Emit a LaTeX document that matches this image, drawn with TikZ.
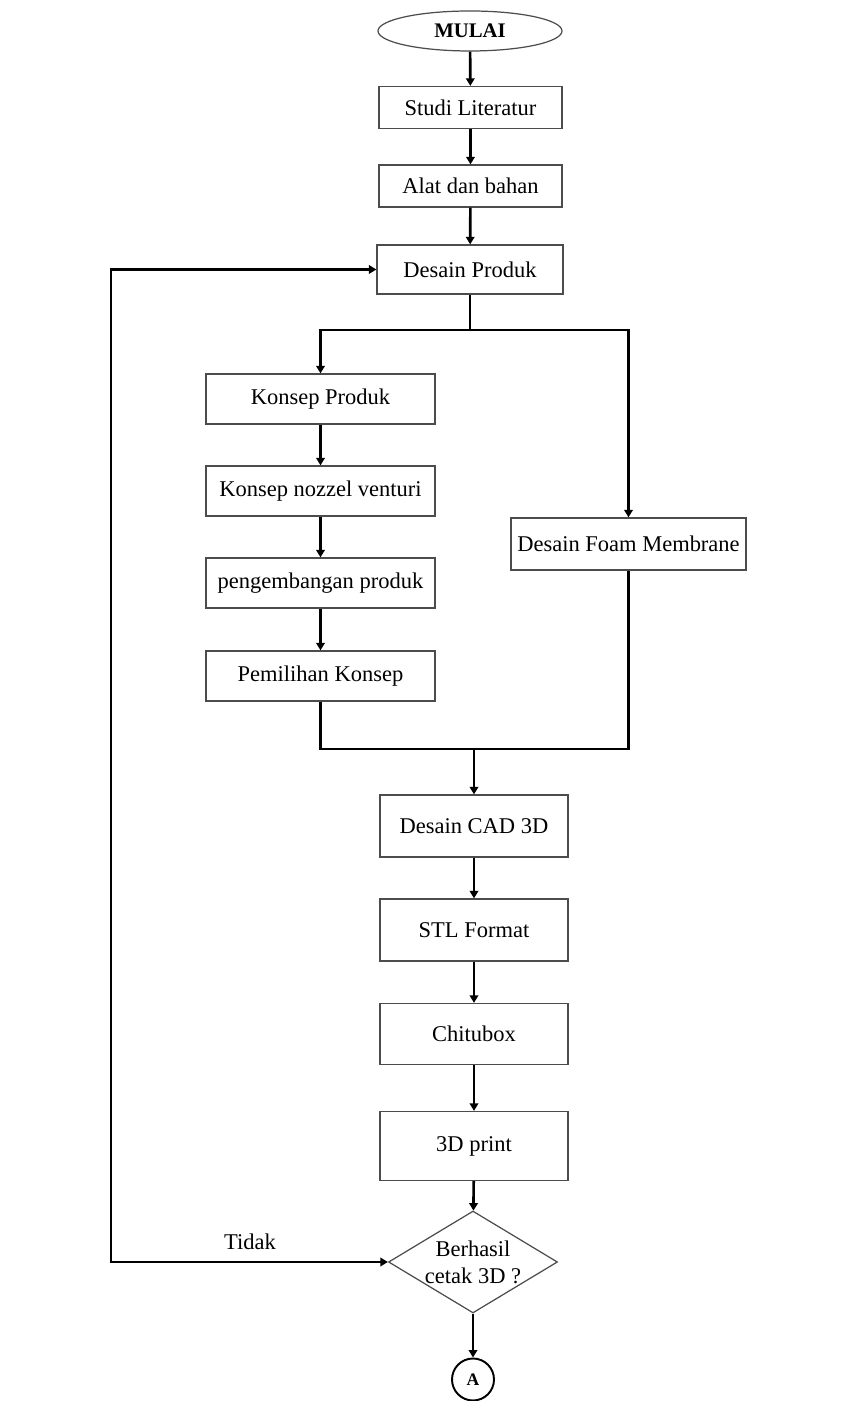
\documentclass[tikz,border=0pt]{standalone}
\usepackage{fontspec}
\setmainfont{Liberation Serif}
\usepackage{tikz}
\usetikzlibrary{positioning,arrows.meta,calc,shapes}

\begin{document}
\begin{tikzpicture}[
    >={Triangle[length=1.5mm,width=1.7mm]},
    every node/.style={font=\fontsize{12.8}{15.4}\selectfont, align=center, inner sep=2pt},
    box/.style={draw=black!70, line width=0.7pt, minimum width=3.66cm, minimum height=0.84cm},
    wide/.style={box, minimum width=4.58cm, minimum height=1cm},
    tall/.style={box, minimum width=3.76cm, minimum height=1.24cm},
    line/.style={line width=1.5pt}
]
    \useasboundingbox (0,0) rectangle (17.1,28.02);

    \node[draw=black!70, line width=0.7pt, ellipse, minimum width=3.68cm, minimum height=0.8cm,
          font=\fontsize{11.8}{14}\selectfont\bfseries] (mulai) at (9.40,27.40) {MULAI};
    \node[box] (studi) at (9.41,25.87) {Studi Literatur};
    \node[box] (alat) at (9.41,24.30) {Alat dan bahan};
    \node[box, minimum width=3.72cm, minimum height=0.98cm] (desain) at (9.40,22.63) {Desain Produk};

    \node[wide] (konsep) at (6.41,20.04) {Konsep Produk};
    \node[wide] (nozzel) at (6.41,18.20) {Konsep nozzel venturi};
    \node[wide] (kembang) at (6.41,16.36) {pengembangan produk};
    \node[wide] (pilih) at (6.41,14.50) {Pemilihan Konsep};
    \node[box, minimum width=4.70cm, minimum height=1.04cm] (foam) at (12.57,17.14) {Desain Foam Membrane};

    \node[tall] (cad) at (9.48,11.50) {Desain CAD 3D};
    \node[tall] (stl) at (9.48,9.42) {STL Format};
    \node[tall, minimum height=1.22cm] (chitu) at (9.48,7.34) {Chitubox};
    \node[tall, minimum height=1.38cm] (print) at (9.48,5.10) {3D print};

    \node[draw=black!70, line width=0.7pt, diamond, minimum width=3.38cm, minimum height=2.04cm,
          label={[align=center]center:Berhasil\\cetak 3D ?}] (cek) at (9.46,2.78) {};
    \node[draw, circle, line width=1.1pt, minimum size=0.84cm, inner sep=0pt,
          font=\fontsize{10}{12}\selectfont\bfseries] (a) at (9.46,0.43) {A};
    \node (tidak) at (5.00,3.18) {Tidak};

    \coordinate (cabang) at (9.40,21.42);
    \coordinate (gabung) at (9.48,13.04);
    \coordinate (bawah) at (2.22,2.78);

    \draw[line,->] (mulai) -- (studi);
    \draw[line,->] (studi) -- (alat);
    \draw[line,->] (alat) -- (desain);
    \draw[line] (desain) -- (cabang);
    \draw[line,->] (cabang) -| (konsep);
    \draw[line,->] (cabang) -| (foam);
    \draw[line,->] (konsep) -- (nozzel);
    \draw[line,->] (nozzel) -- (kembang);
    \draw[line,->] (kembang) -- (pilih);
    \draw[line] (pilih.south) |- (gabung) -| (foam.south);
    \draw[line,->] (gabung) -- (cad);
    \draw[line,->] (cad) -- (stl);
    \draw[line,->] (stl) -- (chitu);
    \draw[line,->] (chitu) -- (print);
    \draw[line,->] (print) -- (cek);
    \draw[line,->] (cek) -- (a);
    \draw[line,<->] (cek.west) -- (bawah) |- (desain.west);
\end{tikzpicture}
\end{document}
